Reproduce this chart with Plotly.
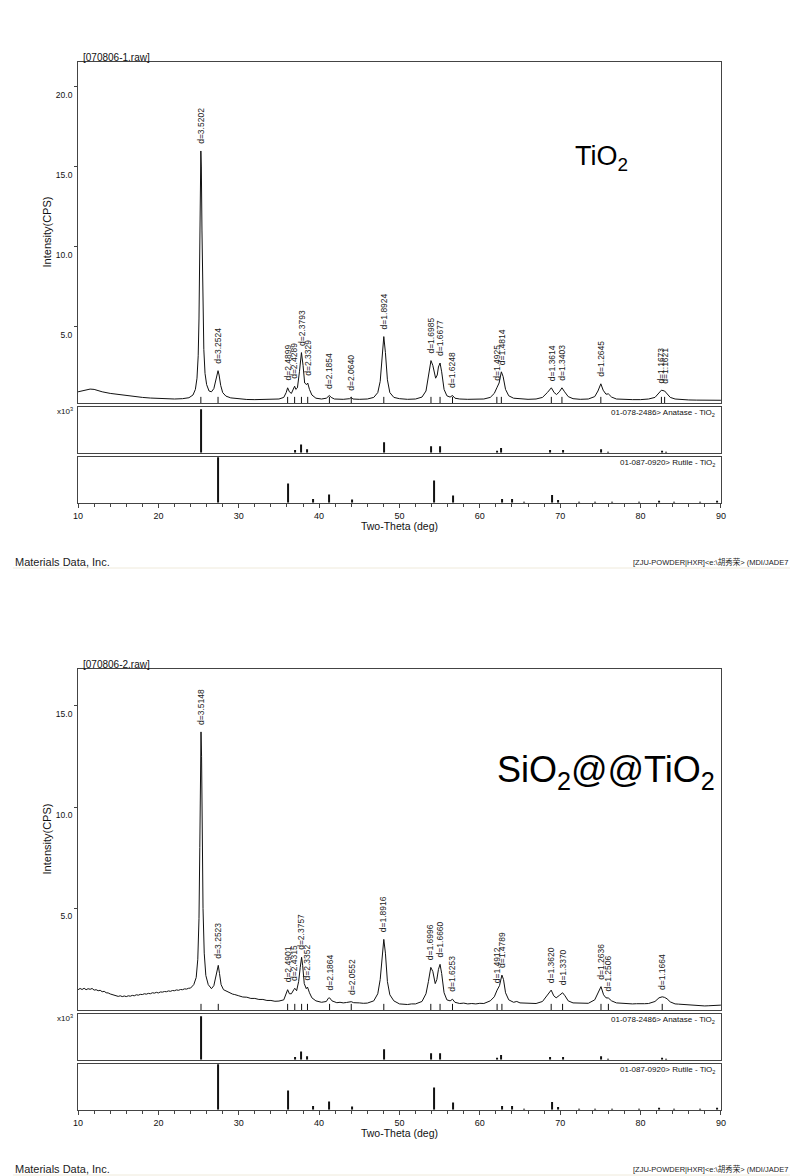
import plotly.graph_objects as go

# ---------------- DATA ----------------
# Pattern 1: 070806-1.raw (TiO2)
tt1 = [10.0, 10.5, 11.0, 11.5, 12.0, 12.5, 13.0, 14.0, 15.0, 16.0, 17.0, 18.0, 19.0, 20.0, 21.0, 22.0,
       23.0, 23.8, 24.3, 24.6, 24.8, 24.95, 25.05, 25.15, 25.22, 25.28, 25.34, 25.42, 25.52, 25.65, 25.8,
       26.0, 26.3, 26.6, 26.9, 27.1, 27.3, 27.42, 27.55, 27.75, 28.0, 28.4, 29.0, 30.0, 31.0, 32.0, 33.0,
       34.0, 35.0, 35.6, 35.9, 36.08, 36.3, 36.55, 36.8, 36.95, 37.1, 37.3, 37.55, 37.8, 38.0, 38.2, 38.45,
       38.58, 38.8, 39.1, 39.6, 40.3, 40.9, 41.15, 41.28, 41.5, 41.9, 43.0, 43.8, 44.0, 44.2, 45.0, 46.0,
       46.8, 47.3, 47.6, 47.85, 48.05, 48.25, 48.5, 48.8, 49.3, 50.0, 51.0, 52.0, 52.8, 53.3, 53.6, 53.92,
       54.15, 54.5, 54.7, 54.85, 55.05, 55.25, 55.55, 55.9, 56.3, 56.6, 56.9, 57.5, 58.5, 59.5, 60.5, 61.3,
       61.8, 62.12, 62.4, 62.68, 62.9, 63.2, 63.6, 64.2, 65.0, 66.0, 67.0, 67.8, 68.4, 68.9, 69.25, 69.55,
       69.9, 70.22, 70.55, 71.0, 71.6, 72.5, 73.5, 74.3, 74.7, 75.06, 75.35, 75.7, 76.0, 76.4, 77.0, 78.0,
       79.0, 80.0, 81.0, 81.8, 82.3, 82.6, 83.0, 83.3, 83.7, 84.3, 85.0, 86.0, 87.0, 88.0, 89.0, 90.0]
int1 = [0.95, 1.0, 1.08, 1.12, 1.1, 1.02, 0.95, 0.85, 0.78, 0.7, 0.64, 0.6, 0.56, 0.53, 0.5, 0.5,
        0.52, 0.58, 0.75, 1.1, 1.8, 3.2, 5.5, 9.5, 13.5, 16.0, 15.0, 11.0, 6.5, 3.6, 2.1,
        1.4, 1.0, 0.95, 1.15, 1.6, 2.1, 2.27, 2.0, 1.35, 0.9, 0.68, 0.57, 0.5, 0.47, 0.46, 0.46,
        0.47, 0.5, 0.6, 0.9, 1.2, 0.95, 0.85, 1.15, 1.3, 1.1, 1.2, 2.2, 3.4, 2.6, 1.5, 1.4,
        1.5, 1.1, 0.75, 0.55, 0.5, 0.55, 0.68, 0.72, 0.6, 0.5, 0.48, 0.52, 0.6, 0.5, 0.48, 0.5,
        0.6, 0.9, 1.6, 3.2, 4.4, 3.4, 1.7, 0.9, 0.6, 0.52, 0.48, 0.5, 0.62, 1.0, 1.8, 2.9,
        2.6, 1.8, 2.0, 2.5, 2.75, 2.2, 1.1, 0.7, 0.62, 0.72, 0.55, 0.5, 0.48, 0.47, 0.5, 0.6,
        0.85, 1.2, 1.5, 2.2, 1.9, 1.1, 0.7, 0.55, 0.5, 0.48, 0.5, 0.6, 0.9, 1.2, 0.9, 0.78,
        0.95, 1.2, 0.95, 0.65, 0.52, 0.48, 0.5, 0.65, 1.0, 1.45, 1.05, 0.8, 0.82, 0.62, 0.5, 0.47,
        0.46, 0.46, 0.5, 0.6, 0.85, 1.05, 1.0, 0.85, 0.6, 0.5, 0.46, 0.44, 0.43, 0.42, 0.42, 0.42]

peak_tt1 = [25.28, 27.42, 36.08, 36.95, 37.8, 38.58, 41.28, 44.0, 48.05, 53.92, 55.05, 56.6,
            62.12, 62.68, 68.9, 70.22, 75.06, 82.6, 83.0]
peak_int1 = [16.0, 2.27, 1.2, 1.3, 3.4, 1.5, 0.72, 0.6, 4.4, 2.9, 2.75, 0.72,
             1.2, 2.2, 1.2, 1.2, 1.45, 1.05, 1.0]
peak_lab1 = ["d=3.5202", "d=3.2524", "d=2.4899", "d=2.4289", "d=2.3793", "d=2.3329", "d=2.1854",
             "d=2.0640", "d=1.8924", "d=1.6985", "d=1.6677", "d=1.6248", "d=1.4925", "d=1.4814",
             "d=1.3614", "d=1.3403", "d=1.2645", "d=1.1673", "d=1.1621"]

# Pattern 2: 070806-2.raw (SiO2@@TiO2), (2-theta, intensity) pairs
pattern2 = [
    (10.0, 1.0), (10.25, 1.06), (10.5, 1.01), (10.75, 1.07), (11.0, 1.0), (11.25, 1.05), (11.5, 1.02),
    (11.75, 1.06), (12.0, 0.98), (12.25, 1.0), (12.5, 0.95), (12.75, 0.97), (13.0, 0.9), (13.25, 0.92),
    (13.5, 0.85), (13.75, 0.84), (14.0, 0.79), (14.25, 0.76), (14.5, 0.73), (14.75, 0.71), (15.0, 0.67),
    (15.25, 0.7), (15.5, 0.66), (15.75, 0.69), (16.0, 0.66), (16.25, 0.7), (16.5, 0.68), (16.75, 0.72),
    (17.0, 0.7), (17.25, 0.75), (17.5, 0.73), (17.75, 0.77), (18.0, 0.76), (18.25, 0.8), (18.5, 0.78),
    (18.75, 0.82), (19.0, 0.8), (19.25, 0.85), (19.5, 0.83), (19.75, 0.87), (20.0, 0.84), (20.25, 0.89),
    (20.5, 0.88), (20.75, 0.91), (21.0, 0.9), (21.25, 0.94), (21.5, 0.92), (21.75, 0.96), (22.0, 0.95),
    (22.25, 0.99), (22.5, 0.97), (22.75, 1.01), (23.0, 1.0), (23.25, 1.04), (23.5, 1.03), (23.75, 1.07),
    (24.0, 1.08), (24.4, 1.25), (24.7, 1.6), (24.9, 2.5), (25.05, 4.5), (25.15, 8.0), (25.22, 11.5),
    (25.3, 13.7), (25.37, 12.5), (25.45, 9.0), (25.55, 5.0), (25.7, 2.8), (25.9, 1.7), (26.2, 1.25),
    (26.6, 1.05), (26.9, 1.2), (27.15, 1.7), (27.35, 2.15), (27.45, 2.2), (27.6, 1.8), (27.8, 1.25),
    (28.1, 1.0), (28.5, 0.92), (28.75, 0.85), (29.0, 0.82), (29.25, 0.78), (29.5, 0.76), (29.75, 0.71),
    (30.0, 0.7), (30.5, 0.64), (31.0, 0.63), (31.5, 0.57), (32.0, 0.57), (32.5, 0.52), (33.0, 0.52),
    (33.5, 0.47), (34.0, 0.47), (34.5, 0.43), (35.0, 0.44), (35.6, 0.5), (35.9, 0.8), (36.08, 1.0),
    (36.3, 0.8), (36.55, 0.8), (36.85, 1.0), (36.97, 1.07), (37.2, 0.95), (37.45, 1.4), (37.65, 2.1),
    (37.82, 2.6), (37.95, 2.2), (38.15, 1.3), (38.4, 1.05), (38.55, 1.13), (38.8, 0.85), (39.1, 0.6),
    (39.6, 0.45), (40.0, 0.41), (40.3, 0.38), (40.6, 0.4), (40.9, 0.42), (41.15, 0.58), (41.3, 0.6),
    (41.6, 0.45), (42.2, 0.36), (42.6, 0.38), (43.0, 0.35), (43.4, 0.37), (43.8, 0.38), (44.0, 0.41),
    (44.3, 0.36), (44.7, 0.37), (45.0, 0.35), (45.5, 0.33), (46.0, 0.34), (46.8, 0.45), (47.3, 0.8),
    (47.6, 1.5), (47.85, 2.7), (48.05, 3.48), (48.25, 2.8), (48.5, 1.4), (48.8, 0.75), (49.3, 0.45),
    (50.0, 0.3), (50.5, 0.29), (51.0, 0.27), (51.5, 0.3), (52.0, 0.3), (52.8, 0.42), (53.3, 0.8),
    (53.6, 1.4), (53.9, 2.1), (54.15, 1.9), (54.45, 1.3), (54.65, 1.5), (54.85, 2.0), (55.05, 2.25),
    (55.25, 1.8), (55.55, 0.85), (55.9, 0.5), (56.3, 0.45), (56.6, 0.53), (56.9, 0.38), (57.5, 0.32),
    (58.0, 0.34), (58.5, 0.3), (59.0, 0.32), (59.5, 0.3), (60.0, 0.33), (60.5, 0.32), (61.3, 0.45),
    (61.8, 0.65), (62.15, 0.98), (62.45, 1.2), (62.75, 1.72), (62.95, 1.5), (63.2, 0.85), (63.6, 0.5),
    (64.2, 0.38), (64.6, 0.42), (65.0, 0.35), (65.5, 0.34), (66.0, 0.32), (66.5, 0.34), (67.0, 0.32),
    (67.8, 0.42), (68.4, 0.7), (68.88, 0.98), (69.2, 0.7), (69.5, 0.6), (69.9, 0.72), (70.3, 0.85),
    (70.6, 0.7), (71.0, 0.45), (71.6, 0.35), (72.0, 0.34), (72.5, 0.32), (73.0, 0.34), (73.5, 0.33),
    (74.3, 0.5), (74.7, 0.8), (75.08, 1.15), (75.4, 0.75), (75.7, 0.6), (76.0, 0.59), (76.4, 0.45),
    (77.0, 0.35), (77.5, 0.33), (78.0, 0.32), (78.5, 0.31), (79.0, 0.3), (79.5, 0.31), (80.0, 0.3),
    (80.5, 0.31), (81.0, 0.32), (81.8, 0.42), (82.3, 0.6), (82.7, 0.65), (83.0, 0.62), (83.3, 0.55),
    (83.7, 0.4), (84.3, 0.3), (84.7, 0.29), (85.0, 0.28), (85.5, 0.27), (86.0, 0.25), (86.5, 0.24),
    (87.0, 0.22), (87.5, 0.21), (88.0, 0.2), (88.5, 0.21), (89.0, 0.22), (89.5, 0.23), (90.0, 0.24),
]
tt2 = [a for a, b in pattern2]
int2 = [b for a, b in pattern2]

peak_tt2 = [25.3, 27.45, 36.08, 36.97, 37.82, 38.55, 41.3, 44.0, 48.05, 53.9, 55.05, 56.6,
            62.15, 62.75, 68.88, 70.3, 75.08, 76.0, 82.7]
peak_int2 = [13.7, 2.2, 1.0, 1.07, 2.6, 1.13, 0.6, 0.41, 3.48, 2.1, 2.25, 0.53,
             0.98, 1.72, 0.98, 0.85, 1.15, 0.59, 0.65]
peak_lab2 = ["d=3.5148", "d=3.2523", "d=2.4901", "d=2.4315", "d=2.3757", "d=2.3352", "d=2.1864",
             "d=2.0552", "d=1.8916", "d=1.6996", "d=1.6660", "d=1.6253", "d=1.4912", "d=1.4789",
             "d=1.3620", "d=1.3370", "d=1.2636", "d=1.2506", "d=1.1664"]

# Reference sticks (relative intensity %)
anatase_tt = [25.3, 36.95, 37.8, 38.55, 48.05, 53.9, 55.05, 62.1, 62.7, 68.8, 70.3, 75.05, 76.0, 82.7, 83.2]
anatase_int = [100, 6, 19, 8, 24, 15, 15, 4, 11, 6, 6, 8, 2, 3, 2]
rutile_tt = [27.45, 36.1, 39.2, 41.25, 44.05, 54.35, 56.65, 62.75, 64.05, 65.5, 69.0, 69.8, 72.4,
             74.4, 76.5, 79.8, 82.3, 84.2, 87.4, 89.5]
rutile_int = [100, 42, 8, 18, 7, 49, 16, 8, 8, 2, 17, 6, 2, 2, 2, 2, 3, 2, 2, 3]

x_ticks = [10, 20, 30, 40, 50, 60, 70, 80, 90]
y1_ticks = [5, 10, 15, 20]
y1_labels = ["5.0", "10.0", "15.0", "20.0"]
y2_ticks = [5, 10, 15]
y2_labels = ["5.0", "10.0", "15.0"]

panels = [
    dict(tt=tt1, inten=int1, ptt=peak_tt1, pint=peak_int1, plab=peak_lab1,
         name="[070806-1.raw]", sample="TiO<sub>2</sub>", ssize=27, sx=604, sy=158,
         yr=[0.25, 21.56], yt=y1_ticks, yl=y1_labels, off=0),
    dict(tt=tt2, inten=int2, ptt=peak_tt2, pint=peak_int2, plab=peak_lab2,
         name="[070806-2.raw]", sample="SiO<sub>2</sub>@@TiO<sub>2</sub>", ssize=36, sx=609, sy=165,
         yr=[0.0, 16.8], yt=y2_ticks, yl=y2_labels, off=607),
]

# ---------------- FIGURE ----------------
W, H = 795, 1176
def pxx(x):
    return x / W
def pyy(y):
    return 1 - y / H

FONT = "Liberation Sans, Arial, sans-serif"
XL, XR = 74, 725
xdom = [pxx(XL), pxx(XR)]

fig = go.Figure()
layout = dict(width=W, height=H, margin=dict(l=0, r=0, t=0, b=0),
              paper_bgcolor="white", plot_bgcolor="white", showlegend=False,
              font=dict(family=FONT, color="#111", size=9))
annotations = []
shapes = []

for i, p in enumerate(panels):
    o = p["off"]
    k = 3 * i
    ax_main, ax_an, ax_ru = k + 1, k + 2, k + 3
    def nm(n, pre):
        return pre if n == 1 else f"{pre}{n}"

    fig.add_trace(go.Scatter(x=p["tt"], y=p["inten"], mode="lines",
                             line=dict(color="#111", width=1),
                             xaxis=nm(ax_main, "x"), yaxis=nm(ax_main, "y"), hoverinfo="skip"))
    mx, my = [], []
    base = p["yr"][0]
    hgt = (p["yr"][1] - p["yr"][0]) * 0.018
    for t in p["ptt"]:
        mx += [t, t, None]
        my += [base, base + hgt, None]
    fig.add_trace(go.Scatter(x=mx, y=my, mode="lines", line=dict(color="#111", width=1),
                             xaxis=nm(ax_main, "x"), yaxis=nm(ax_main, "y"), hoverinfo="skip"))
    fig.add_trace(go.Bar(x=anatase_tt, y=anatase_int, width=0.13, marker=dict(color="#111", line=dict(width=0)),
                         xaxis=nm(ax_an, "x"), yaxis=nm(ax_an, "y"), hoverinfo="skip"))
    fig.add_trace(go.Bar(x=rutile_tt, y=rutile_int, width=0.13, marker=dict(color="#111", line=dict(width=0)),
                         xaxis=nm(ax_ru, "x"), yaxis=nm(ax_ru, "y"), hoverinfo="skip"))

    doms = {ax_main: (62 + o, 403 + o), ax_an: (406.7 + o, 452.7 + o), ax_ru: (456.7 + o, 502.7 + o)}
    for n in (ax_main, ax_an, ax_ru):
        top, bot = doms[n]
        xa = dict(domain=xdom, range=[10, 90], anchor=nm(n, "y"), showline=True, mirror=True,
                  linecolor="#444", linewidth=1, showgrid=False, zeroline=False,
                  showticklabels=False, ticks="", fixedrange=True)
        if n == ax_ru:
            xa.update(showticklabels=True, ticks="outside", ticklen=4, tickwidth=1, tickcolor="#444",
                      tickvals=x_ticks, tickfont=dict(size=9, color="#111"),
                      minor=dict(dtick=2, ticks="outside", ticklen=3, tickcolor="#444", tickwidth=1),
                      title=dict(text="Two-Theta (deg)", font=dict(size=10.5, color="#111"), standoff=2))
        ya = dict(domain=[pyy(bot), pyy(top)], anchor=nm(n, "x"), showline=True, mirror=True,
                  linecolor="#444", linewidth=1, showgrid=False, zeroline=False,
                  showticklabels=False, ticks="", fixedrange=True)
        if n == ax_main:
            ya.update(range=p["yr"], showticklabels=True, ticks="outside", ticklen=3, tickcolor="#444",
                      tickvals=p["yt"], ticktext=p["yl"], tickfont=dict(size=8.5, color="#111"),
                      ticklabelshift=8)
        elif n == ax_an:
            ya.update(range=[0, 106])
        else:
            ya.update(range=[0, 101])
        layout[nm(n, "xaxis")] = xa
        layout[nm(n, "yaxis")] = ya

    xref = nm(ax_main, "x")
    yref = nm(ax_main, "y")
    for t, v, lab in zip(p["ptt"], p["pint"], p["plab"]):
        annotations.append(dict(x=t, y=v, xref=xref, yref=yref, text=lab, showarrow=False,
                                textangle=-90, xanchor="center", yanchor="bottom", yshift=5,
                                font=dict(size=8.5, color="#222")))
    annotations.append(dict(x=pxx(77), y=pyy(57.5 + o), xref="paper", yref="paper", text=p["name"],
                            showarrow=False, xanchor="left", yanchor="middle", font=dict(size=10, color="#111")))
    annotations.append(dict(x=pxx(p["sx"]), y=pyy(p["sy"] + o), xref="paper", yref="paper", text=p["sample"],
                            showarrow=False, xanchor="center", yanchor="middle",
                            font=dict(size=p["ssize"], color="#000")))
    annotations.append(dict(x=pxx(43), y=pyy(232 + o), xref="paper", yref="paper", text="Intensity(CPS)",
                            showarrow=False, textangle=-90, xanchor="center", yanchor="middle",
                            font=dict(size=11, color="#111")))
    annotations.append(dict(x=pxx(71), y=pyy(411 + o), xref="paper", yref="paper", text="x10<sup>3</sup>",
                            showarrow=False, xanchor="right", yanchor="middle", font=dict(size=8, color="#111")))
    annotations.append(dict(x=pxx(721), y=pyy(413 + o), xref="paper", yref="paper",
                            text="01-078-2486> Anatase - TiO<sub>2</sub>", showarrow=False,
                            xanchor="right", yanchor="middle", font=dict(size=8, color="#111")))
    annotations.append(dict(x=pxx(721), y=pyy(463 + o), xref="paper", yref="paper",
                            text="01-087-0920> Rutile - TiO<sub>2</sub>", showarrow=False,
                            xanchor="right", yanchor="middle", font=dict(size=8, color="#111")))
    annotations.append(dict(x=pxx(8), y=pyy(562 + o), xref="paper", yref="paper", text="Materials Data, Inc.",
                            showarrow=False, xanchor="left", yanchor="middle", font=dict(size=11, color="#222")))
    annotations.append(dict(x=1.0, y=pyy(562 + o), xref="paper", yref="paper",
                            text="[ZJU-POWDER|HXR]<e:\\胡秀荣> (MDI/JADE7", showarrow=False,
                            xanchor="right", yanchor="middle",
                            font=dict(size=7.5, color="#222", family="Liberation Sans Narrow, Liberation Sans, Noto Sans CJK SC")))
    shapes.append(dict(type="line", xref="paper", yref="paper", x0=pxx(8), x1=1.0,
                       y0=pyy(568 + o), y1=pyy(568 + o), line=dict(color="#efeadb", width=1)))

layout["annotations"] = annotations
layout["shapes"] = shapes
fig.update_layout(**layout)
fig.write_html("out.html", config={"displayModeBar": False},
               post_script="document.body.style.margin='0';document.body.style.overflow='hidden';")
